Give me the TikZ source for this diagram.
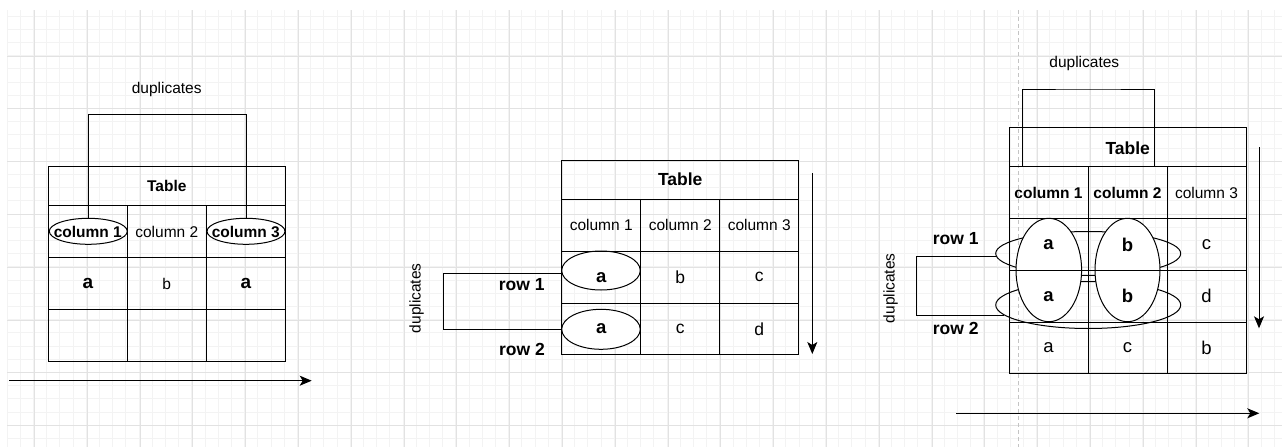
\documentclass[tikz,border=0pt]{standalone}
\usepackage{fontspec}
\setmainfont{Liberation Sans}
\usetikzlibrary{shapes.geometric,arrows.meta}
\definecolor{minorg}{HTML}{F3F3F3}
\definecolor{majorg}{HTML}{E2E2E2}
\definecolor{dashg}{HTML}{C4C4C4}
\begin{document}
\begin{tikzpicture}[x=1pt,y=-1pt,
  ln/.style={line width=1pt, draw=black},
  cellbox/.style={ln, rectangle, inner sep=0pt, minimum width=79pt, minimum height=52pt},
  hdrbox/.style={ln, rectangle, inner sep=0pt, minimum width=237pt, minimum height=39pt},
  ell/.style={ln, ellipse, inner sep=0pt, fill=white},
  hell/.style={ln, ellipse, inner sep=0pt},
  fnorm/.style={font=\fontsize{15.5}{18}\selectfont},
  fbold/.style={font=\fontsize{15.5}{18}\selectfont\bfseries},
  cnorm/.style={font=\fontsize{17.5}{20}\selectfont},
  rnorm/.style={font=\fontsize{18.5}{21}\selectfont},
  cbold/.style={font=\fontsize{18.5}{21}\selectfont\bfseries},
  lbold/.style={font=\fontsize{19}{22}\selectfont\bfseries},
  fbig/.style={font=\fontsize{17.5}{20}\selectfont\bfseries},
  conn/.style={line width=1pt, draw=black},
  arr/.style={line width=1pt, draw=black, -{Stealth[length=12pt,width=10pt,inset=3pt]}},
  minorgrid/.style={draw=minorg, line width=0.8pt},
  majorgrid/.style={draw=majorg, line width=0.8pt}
]
\useasboundingbox (0,0) rectangle (1282,447);
\fill[white] (0,0) rectangle (1282,447);
% background grid
\foreach \i in {0,...,96} \draw[minorgrid] ({7+13.2*\i},10) -- ({7+13.2*\i},447);
\foreach \j in {1,...,33} \draw[minorgrid] (7,{2.7+13.2*\j}) -- (1282,{2.7+13.2*\j});
\foreach \i in {0,...,23} \draw[majorgrid] ({34.4+52.8*\i},10) -- ({34.4+52.8*\i},447);
\foreach \j in {0,...,7} \draw[majorgrid] (7,{56+52.8*\j}) -- (1282,{56+52.8*\j});
\draw[dashg, line width=0.8pt, dash pattern=on 4pt off 3pt] (1018.3,10) -- (1018.3,447);

% ================= LEFT =================
\node[ell, minimum width=78pt, minimum height=26pt] (le1) at (88.3,231.3) {};
\node[ell, minimum width=78pt, minimum height=26pt] (le3) at (246,231.3) {};
\node[hdrbox, fbold] (lh) at (166.8,186.2) {Table};
\node[cellbox, fbold] (l11) at (87.8,231.7) {column 1};
\node[cellbox, fnorm] (l12) at (166.8,231.7) {column 2};
\node[cellbox, fbold] (l13) at (245.8,231.7) {column 3};
\node[cellbox, lbold] (l21) at (87.8,283.7) {a};
\node[cellbox, fnorm] (l22) at (166.8,283.7) {b};
\node[cellbox, lbold] (l23) at (245.8,283.7) {a};
\node[cellbox] (l31) at (87.8,335.7) {};
\node[cellbox] (l32) at (166.8,335.7) {};
\node[cellbox] (l33) at (245.8,335.7) {};
\coordinate (ltop) at (173,114.3);
\draw[conn] (le1.north) |- (ltop) -| (le3.north);
\node[fnorm] (ldup) at (166.7,89.3) {duplicates};
\coordinate (la1) at (9,380.7);
\coordinate (la2) at (311.7,380.7);
\draw[arr] (la1) -- (la2);

% ================= MIDDLE =================
\node[ell, minimum width=78.6pt, minimum height=39pt] (me1) at (601,270.5) {};
\node[ell, minimum width=78.6pt, minimum height=40pt] (me2) at (601,329.3) {};
\node[hdrbox, fbig, minimum height=39.3pt] (mh) at (680.2,179.65) {Table};
\node[cellbox, fnorm] (m11) at (601.2,225.3) {column 1};
\node[cellbox, fnorm] (m12) at (680.2,225.3) {column 2};
\node[cellbox, fnorm] (m13) at (759.2,225.3) {column 3};
\node[cellbox, cbold] (m21) at (601.2,277.3) {a};
\node[cellbox, cnorm] (m22) at (680.2,277.3) {b};
\node[cellbox, cnorm] (m23) at (759.2,277.3) {c};
\node[cellbox, cbold, minimum height=51pt] (m31) at (601.2,328.8) {a};
\node[cellbox, cnorm, minimum height=51pt] (m32) at (680.2,328.8) {c};
\node[cellbox, cnorm, minimum height=51pt] (m33) at (759.2,328.8) {d};
\coordinate (mbk) at (443.3,300);
\draw[conn] (me1.185.6) -| (mbk) |- (me2.west);
\node[fnorm, rotate=90] (mdup) at (416.7,298.3) {duplicates};
\node[fbig] (mr1) at (521.7,284.3) {row 1};
\node[fbig] (mr2) at (522,349) {row 2};
\coordinate (ma1) at (812.3,173.3);
\coordinate (ma2) at (812.3,354);
\draw[arr] (ma1) -- (ma2);

% ================= RIGHT =================
\node[hell, minimum width=185pt, minimum height=44pt] (rh1) at (1088.2,253.5) {};
\node[hell, minimum width=185pt, minimum height=47pt] (rh2) at (1088.2,305) {};
\node[ell, minimum width=65.6pt, minimum height=103.4pt] (rv1) at (1048.8,270) {};
\node[ell, minimum width=65pt, minimum height=103.4pt] (rv2) at (1127.5,270) {};
\node[hdrbox] (rh) at (1127.5,147.2) {};
\node[fbig] (rtab) at (1127.7,148.3) {Table};
\node[cellbox, fbold, minimum height=51.8pt] (r11) at (1048.5,192.6) {column 1};
\node[cellbox, fbold, minimum height=51.8pt] (r12) at (1127.5,192.6) {column 2};
\node[cellbox, fnorm, minimum height=51.8pt] (r13) at (1206.5,192.6) {column 3};
\node[cellbox, cbold, minimum height=51.8pt] (r21) at (1048.5,244.4) {a};
\node[cellbox, cbold, minimum height=51.8pt] (r22) at (1127.5,244.4) {b};
\node[cellbox, rnorm, minimum height=51.8pt] (r23) at (1206.5,244.4) {c};
\node[cellbox, cbold, minimum height=51.8pt] (r31) at (1048.5,296.2) {a};
\node[cellbox, cbold, minimum height=51.8pt] (r32) at (1127.5,296.2) {b};
\node[cellbox, rnorm, minimum height=51.8pt] (r33) at (1206.5,296.2) {d};
\node[cellbox, rnorm, minimum height=51.8pt] (r41) at (1048.5,348) {a};
\node[cellbox, rnorm, minimum height=51.8pt] (r42) at (1127.5,348) {c};
\node[cellbox, rnorm, minimum height=51.8pt] (r43) at (1206.5,348) {b};
\coordinate (rt1) at (1022.3,166.7);
\coordinate (rt2) at (1154,166.7);
\coordinate (rtop) at (1088,89);
\draw[conn] (rt1) |- (rtop) -| (rt2);
\node[fnorm] (rdup) at (1084.3,63.3) {duplicates};
\coordinate (rbk) at (916.7,285);
\draw[conn] (rh1.182.6) -| (rbk) |- (rh2.187.4);
\node[fnorm, rotate=90] (rdupv) at (890.7,288.3) {duplicates};
\node[fbig] (rr1) at (955.7,239) {row 1};
\node[fbig] (rr2) at (955.7,328.7) {row 2};
\coordinate (ra1) at (1259,147.3);
\coordinate (ra2) at (1259,328.3);
\draw[arr] (ra1) -- (ra2);
\coordinate (ra3) at (956,413.3);
\coordinate (ra4) at (1259.3,413.3);
\draw[arr] (ra3) -- (ra4);
\end{tikzpicture}
\end{document}
